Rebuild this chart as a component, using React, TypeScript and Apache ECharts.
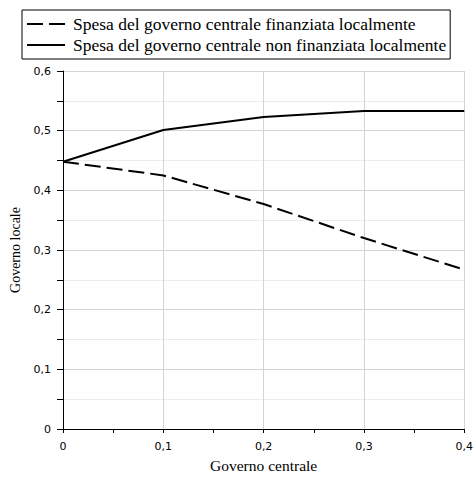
import React, { useEffect, useRef } from "react";
import * as echarts from "echarts";

const xValues = [0, 0.1, 0.2, 0.3, 0.4];
const financedLocally = [0.448, 0.425, 0.377, 0.32, 0.267];
const notFinancedLocally = [0.448, 0.501, 0.523, 0.533, 0.533];
const seriesNames = [
  "Spesa del governo centrale finanziata localmente",
  "Spesa del governo centrale non finanziata localmente",
];
const xTitle = "Governo centrale";
const yTitle = "Governo locale";

const fmt = (v: number) => String(+v.toFixed(2)).replace(".", ",");
const SERIF = "'Liberation Serif', 'Times New Roman', serif";
const SANS = "'DejaVu Sans', Verdana, sans-serif";

export default function App() {
  const ref = useRef<HTMLDivElement>(null);
  useEffect(() => {
    if (!ref.current) return;
    const chart = echarts.init(ref.current, undefined, { renderer: "svg" });
    const pairs = (ys: number[]) => xValues.map((x, i) => [x, ys[i]]);
    chart.setOption({
      animation: false,
      backgroundColor: "#fff",
      legend: {
        left: 22,
        top: 10,
        orient: "vertical",
        borderColor: "#000",
        borderWidth: 1,
        padding: [5, 4, 5, 5],
        itemWidth: 38,
        itemHeight: 2,
        itemGap: 3,
        textStyle: {
          fontFamily: SERIF,
          fontSize: 17.5,
          color: "#000",
          padding: [0, 0, 0, 3],
        },
        data: [
          { name: seriesNames[0], icon: "path://M0,0H16V2H0Z M22,0H38V2H22Z", itemStyle: { color: "#000" } },
          { name: seriesNames[1], icon: "path://M0,0H38V2H0Z", itemStyle: { color: "#000" } },
        ],
      },
      grid: { left: 63, right: 8.5, top: 71, bottom: 44, containLabel: false },
      xAxis: {
        type: "value",
        min: 0,
        max: 0.4,
        interval: 0.1,
        name: xTitle,
        nameLocation: "middle",
        nameGap: 28,
        nameTextStyle: { fontFamily: SERIF, fontSize: 15.5, color: "#000" },
        axisLine: { show: true, lineStyle: { color: "#000", width: 1 } },
        axisTick: { show: true, length: 4, lineStyle: { color: "#000" } },
        minorTick: { show: true, splitNumber: 2, length: 4, lineStyle: { color: "#000" } },
        splitLine: { show: true, lineStyle: { color: "#d4d4d4", width: 1 } },
        minorSplitLine: { show: false },
        axisLabel: {
          formatter: (v: number) => fmt(v),
          fontFamily: SANS,
          fontSize: 11,
          color: "#000",
          margin: 12,
        },
      },
      yAxis: {
        type: "value",
        min: 0,
        max: 0.6,
        interval: 0.1,
        name: yTitle,
        nameLocation: "middle",
        nameGap: 37,
        nameTextStyle: { fontFamily: SERIF, fontSize: 14, color: "#000" },
        axisLine: { show: true, lineStyle: { color: "#000", width: 1 } },
        axisTick: { show: true, length: 6, lineStyle: { color: "#000" } },
        minorTick: { show: true, splitNumber: 2, length: 6, lineStyle: { color: "#000" } },
        splitLine: { show: true, lineStyle: { color: "#d4d4d4", width: 1 } },
        minorSplitLine: { show: true, lineStyle: { color: "#ebebeb", width: 1 } },
        axisLabel: {
          formatter: (v: number) => fmt(v),
          fontFamily: SANS,
          fontSize: 11,
          color: "#000",
          margin: 12,
        },
      },
      series: [
        {
          name: seriesNames[0],
          type: "line",
          data: pairs(financedLocally),
          symbol: "none",
          lineStyle: { color: "#000", width: 2, type: [16, 6] },
          itemStyle: { color: "#000" },
          z: 3,
        },
        {
          name: seriesNames[1],
          type: "line",
          data: pairs(notFinancedLocally),
          symbol: "none",
          lineStyle: { color: "#000", width: 2, type: "solid" },
          itemStyle: { color: "#000" },
          z: 4,
        },
      ],
    });
    return () => chart.dispose();
  }, []);
  return (
    <div
      ref={ref}
      style={{ position: "absolute", left: 0, top: 0, width: 476, height: 478 }}
    />
  );
}
